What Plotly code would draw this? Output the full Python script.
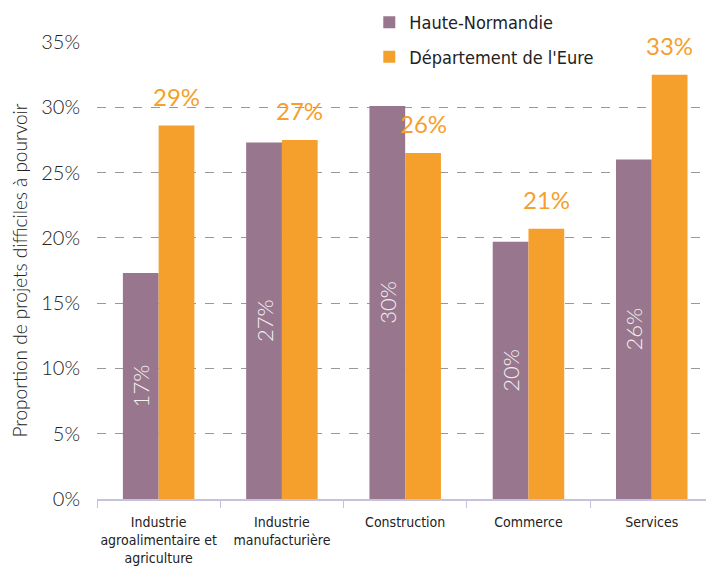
import plotly.graph_objects as go

categories = ["Industrie<br>agroalimentaire et<br>agriculture", "Industrie<br>manufacturière",
              "Construction", "Commerce", "Services"]
haute_normandie = [17.3, 27.3, 30.1, 19.7, 26.0]
eure = [28.6, 27.5, 26.5, 20.7, 32.5]
hn_labels = ["17%", "27%", "30%", "20%", "26%"]
eure_labels = ["29%", "27%", "26%", "21%", "33%"]
y_ticks = [0, 5, 10, 15, 20, 25, 30, 35]

PURPLE = "#98768D"
ORANGE = "#F5A02C"
COND = "DejaVu Sans Condensed, Liberation Sans Narrow, Roboto"
LIGHT = "Lato Light, Lato"

fig = go.Figure()
fig.add_trace(go.Bar(
    name="Haute-Normandie", x=categories, y=haute_normandie, legendgroup="hn",
    marker=dict(color=PURPLE, line=dict(width=0)),
    text=hn_labels, textposition="inside", insidetextanchor="middle",
    textangle=-90, textfont=dict(color="#F2F2F2", size=22, family=LIGHT),
))
fig.add_trace(go.Bar(
    name="Département de l'Eure", x=categories, y=eure, legendgroup="eure",
    marker=dict(color=ORANGE, line=dict(width=0)),
))

n = len(categories)
for i, (v, lab) in enumerate(zip(eure, eure_labels)):
    fig.add_annotation(
        x=i + 0.145, y=v, xref="x", yref="y", text=lab, showarrow=False,
        yanchor="bottom", yshift=13,
        font=dict(color=ORANGE, size=24, family="Lato"),
    )

fig.update_layout(
    width=714, height=574,
    margin=dict(l=89, r=8, t=34, b=83, autoexpand=False),
    plot_bgcolor="white", paper_bgcolor="white",
    barmode="group", bargap=0.42, bargroupgap=0,
    font=dict(family=COND, color="#222222"),
    legend=dict(
        xref="container", yref="paper",
        x=0.506, y=1.083, xanchor="left", yanchor="top",
        bgcolor="white", font=dict(size=18, family=COND, color="#222222"),
        traceorder="grouped", tracegroupgap=8, itemwidth=30,
    ),
    showlegend=True,
)
fig.update_xaxes(
    type="category", range=[-0.5, n - 0.5 + 0.005], automargin=False, tickangle=0,
    showline=True, linecolor="#C6C2DE", linewidth=1.5,
    ticks="outside", tickson="boundaries", ticklen=7, tickcolor="#C6C2DE",
    ticklabelstandoff=9,
    tickfont=dict(size=14, family=COND, color="#222222"),
    showgrid=False,
)
fig.update_yaxes(
    range=[0, 35], tickvals=y_ticks, ticktext=[f"{t}%" for t in y_ticks], automargin=False,
    showgrid=True, gridcolor="#999999", griddash="dash", gridwidth=1,
    zeroline=False, showline=False,
    tickfont=dict(size=20, family=LIGHT, color="#222222"),
    ticklabelstandoff=16,
    title=dict(text="Proportion de projets difficiles à pourvoir",
               font=dict(size=19, family=LIGHT, color="#222222"), standoff=8),
)

fig.write_html("out.html")
